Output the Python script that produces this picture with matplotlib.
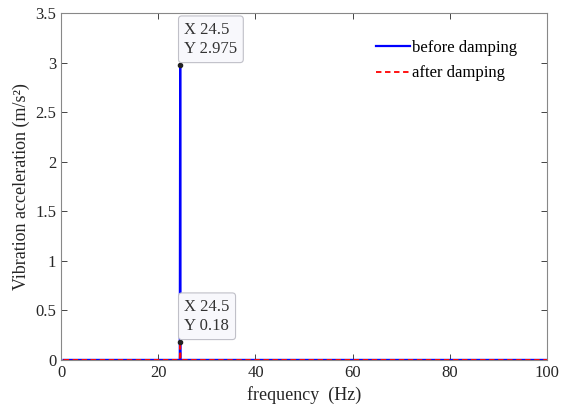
import matplotlib.pyplot as plt

plt.rcParams['font.family'] = ['Liberation Serif', 'DejaVu Serif']

freq = [0.5, 24.42, 24.5, 24.58, 100.0]
before = [0, 0, 2.975, 0, 0]
after = [0, 0, 0.18, 0, 0]
peak_f = 24.5
peak_before = 2.975
peak_after = 0.18

fig = plt.figure(figsize=(5.61, 4.09), dpi=100)
ax = fig.add_axes([0.109, 0.12, 0.866, 0.848])

ax.plot(freq, before, color='#0000ff', lw=1.6, label='before damping')
ax.plot(freq, after, color='#ff0000', lw=1.3, ls=(0, (3, 2)), label='after damping')

ax.set_xlim(0, 100)
ax.set_ylim(0, 3.5)
ax.set_xticks([0, 20, 40, 60, 80, 100])
ax.set_yticks([0, 0.5, 1, 1.5, 2, 2.5, 3, 3.5])
ax.set_yticklabels(['0', '0.5', '1', '1.5', '2', '2.5', '3', '3.5'])
ax.tick_params(direction='in', top=True, right=True, labelsize=12,
               colors='#262626', length=4, width=0.6)
for s in ax.spines.values():
    s.set_color('#888888')
    s.set_linewidth(0.8)

ax.set_xlabel('frequency  (Hz)', fontsize=13, color='#262626')
ax.set_ylabel('Vibration acceleration (m/s²)', fontsize=13, color='#262626')

for y in (peak_before, peak_after):
    ax.plot([peak_f], [y], 'o', color='#222222', ms=3, zorder=5)
    ax.annotate('X %g\nY %g' % (peak_f, y), xy=(peak_f, y),
                xytext=(3, 6), textcoords='offset points', ha='left', va='bottom',
                fontsize=12, color='#333333', linespacing=1.25,
                bbox=dict(boxstyle='round,pad=0.35,rounding_size=0.2',
                          fc='#f8f8fc', ec='#c0c0c8', lw=0.8), zorder=6)

ax.legend(loc='upper right', frameon=False, fontsize=12, handlelength=2.0,
          handletextpad=0.15, bbox_to_anchor=(0.97, 0.965), labelspacing=0.55)

fig.savefig('out.png', dpi=100)
